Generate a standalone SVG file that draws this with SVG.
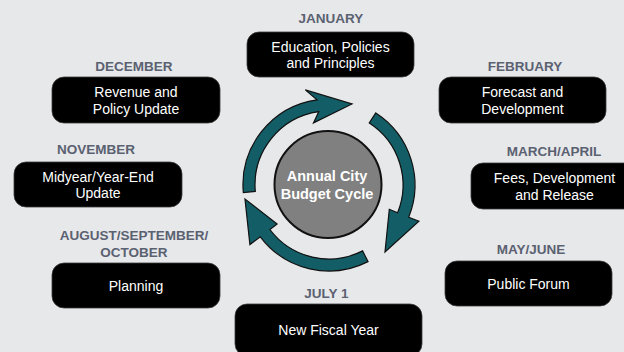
<svg xmlns="http://www.w3.org/2000/svg" width="624" height="352" viewBox="0 0 624 352">
<style>
.lbl{font-family:"Liberation Sans",Arial,sans-serif;font-weight:700;font-size:13.5px;fill:#5a6171;text-anchor:middle}
.box{fill:#000;stroke:#3a3a3a;stroke-width:0.8}
.bt{font-family:"Liberation Sans",Arial,sans-serif;font-size:14px;fill:#fff;text-anchor:middle}
.arr{fill:#135d66;stroke:#111;stroke-width:1.2;stroke-linejoin:miter}
.ct{font-family:"Liberation Sans",Arial,sans-serif;font-weight:700;font-size:14.5px;fill:#fff;text-anchor:middle}
</style>
<rect x="0" y="0" width="624" height="352" fill="#e7e8ea"/>
<g id="connectors">
<path class="arr" d="M 243.3 192.5 A 86 86 0 0 1 317.0 99.8 L 305.3 89.9 L 352 104 L 313.5 122.9 L 318.7 111.7 A 74 74 0 0 0 255.3 191.4 Z"/>
<path class="arr" d="M 375.8 112.9 A 86 86 0 0 1 408.7 217.2 L 418.9 221.3 L 385 252 L 389.3 209.3 L 397.6 212.7 A 74 74 0 0 0 369.3 122.9 Z"/>
<path class="arr" d="M 368.0 261.6 A 86 86 0 0 1 260.3 236.8 L 249.9 244.6 L 245 199 L 277.1 224.1 L 269.9 229.5 A 74 74 0 0 0 362.6 250.9 Z"/>
</g>
<g id="center">
<circle cx="328" cy="184.5" r="53.5" fill="#808080" stroke="#111" stroke-width="2"/>
<text class="ct" x="327" y="181">Annual City<tspan x="327" dy="18">Budget Cycle</tspan></text>
</g>
<g id="january">
<text class="lbl" x="331" y="23">JANUARY</text>
<rect class="box" x="247" y="32" width="167" height="45" rx="12"/>
<text class="bt" x="330.5" y="51.5">Education, Policies<tspan x="330.5" dy="16.5">and Principles</tspan></text>
</g>
<g id="february">
<text class="lbl" x="525" y="71">FEBRUARY</text>
<rect class="box" x="439" y="77" width="167" height="46" rx="12"/>
<text class="bt" x="522.5" y="97">Forecast and<tspan x="522.5" dy="16.5">Development</tspan></text>
</g>
<g id="march-april">
<text class="lbl" x="554" y="156">MARCH/APRIL</text>
<rect class="box" x="471" y="163" width="167" height="46" rx="12"/>
<text class="bt" x="554.5" y="183">Fees, Development<tspan x="554.5" dy="16.5">and Release</tspan></text>
</g>
<g id="may-june">
<text class="lbl" x="531" y="254">MAY/JUNE</text>
<rect class="box" x="445" y="261" width="167" height="45" rx="12"/>
<text class="bt" x="528.5" y="288.5">Public Forum</text>
</g>
<g id="july">
<text class="lbl" x="326.5" y="298">JULY 1</text>
<rect class="box" x="235" y="304" width="187" height="52" rx="12"/>
<text class="bt" x="328.5" y="335">New Fiscal Year</text>
</g>
<g id="august-october">
<text class="lbl" x="134" y="240">AUGUST/SEPTEMBER/<tspan x="134" dy="16.5">OCTOBER</tspan></text>
<rect class="box" x="52" y="263" width="168" height="45" rx="12"/>
<text class="bt" x="136" y="290.5">Planning</text>
</g>
<g id="november">
<text class="lbl" x="96" y="154">NOVEMBER</text>
<rect class="box" x="14" y="162" width="168" height="45" rx="12"/>
<text class="bt" x="98" y="181.5">Midyear/Year-End<tspan x="98" dy="16.5">Update</tspan></text>
</g>
<g id="december">
<text class="lbl" x="134" y="71">DECEMBER</text>
<rect class="box" x="52" y="77" width="168" height="46" rx="12"/>
<text class="bt" x="136" y="97">Revenue and<tspan x="136" dy="16.5">Policy Update</tspan></text>
</g>
</svg>
